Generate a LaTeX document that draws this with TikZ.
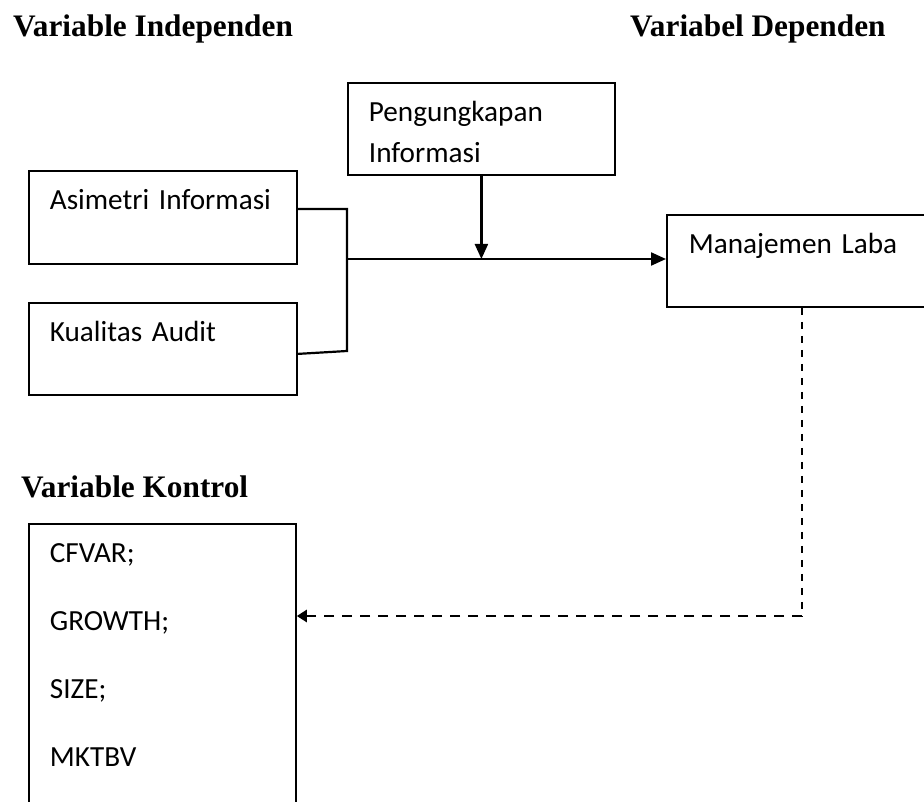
\documentclass[tikz,border=0pt]{standalone}
\usepackage{fontspec}
\setmainfont{Carlito}
\newfontfamily\headfont{Liberation Serif}
\usetikzlibrary{arrows.meta}

\begin{document}
\begin{tikzpicture}[x=1pt,y=1pt,
    head/.style={anchor=base west,inner sep=0pt,font=\headfont\bfseries\fontsize{31.3}{36}\selectfont},
    box/.style={draw,line width=1.8pt,anchor=north west,align=left,inner xsep=21pt,inner ysep=0pt,text height=39pt,font=\fontsize{29.2}{41}\selectfont},
    link/.style={line width=2.2pt},
    arr/.style={link,-{Triangle[length=15pt,width=13pt]}}]
  \useasboundingbox (0,0) rectangle (924,-802);
  \clip (0,0) rectangle (924,-802);
  \node[head] (indep) at (13,-37) {Variable Independen};
  \node[head] (dep) at (630,-37) {Variabel Dependen};
  \node[head] (kontrol) at (21,-497) {Variable Kontrol};

  \node[box,text width=226pt,text depth=54pt] (asim) at (28,-170) {Asimetri Informasi};
  \node[box,text width=226pt,text depth=53pt] (kual) at (28,-302) {Kualitas Audit};
  \node[box,text width=225pt,text depth=53pt] (peng) at (347,-82) {Pengungkapan\\Informasi};
  \node[box,inner xsep=22pt,text width=290pt,text depth=53pt] (laba) at (666,-214) {Manajemen Laba};
  \node[box,text width=225pt,text depth=268pt,font=\fontsize{29.2}{68}\selectfont] (ctrl) at (28,-523) {CFVAR;\\GROWTH;\\SIZE;\\MKTBV};

  \coordinate (join) at (347,-259);
  \coordinate (bend) at (347,-351);
  \coordinate (turn) at (802,-616);
  \draw[link] ([yshift=-39pt]asim.north east) -| (bend) -- ([yshift=-5pt]kual.east);
  \draw[arr] (join) -- (join -| laba.west);
  \draw[arr] (peng.south) -- (join -| peng.south);
  \draw[line width=1.6pt,dash pattern=on 7pt off 7pt] (turn |- laba.south) -- (turn);
  \draw[line width=2.6pt,dash pattern=on 10pt off 8pt,-{Triangle[length=10pt,width=12pt]}] (turn) -- (turn -| ctrl.east);
\end{tikzpicture}
\end{document}
